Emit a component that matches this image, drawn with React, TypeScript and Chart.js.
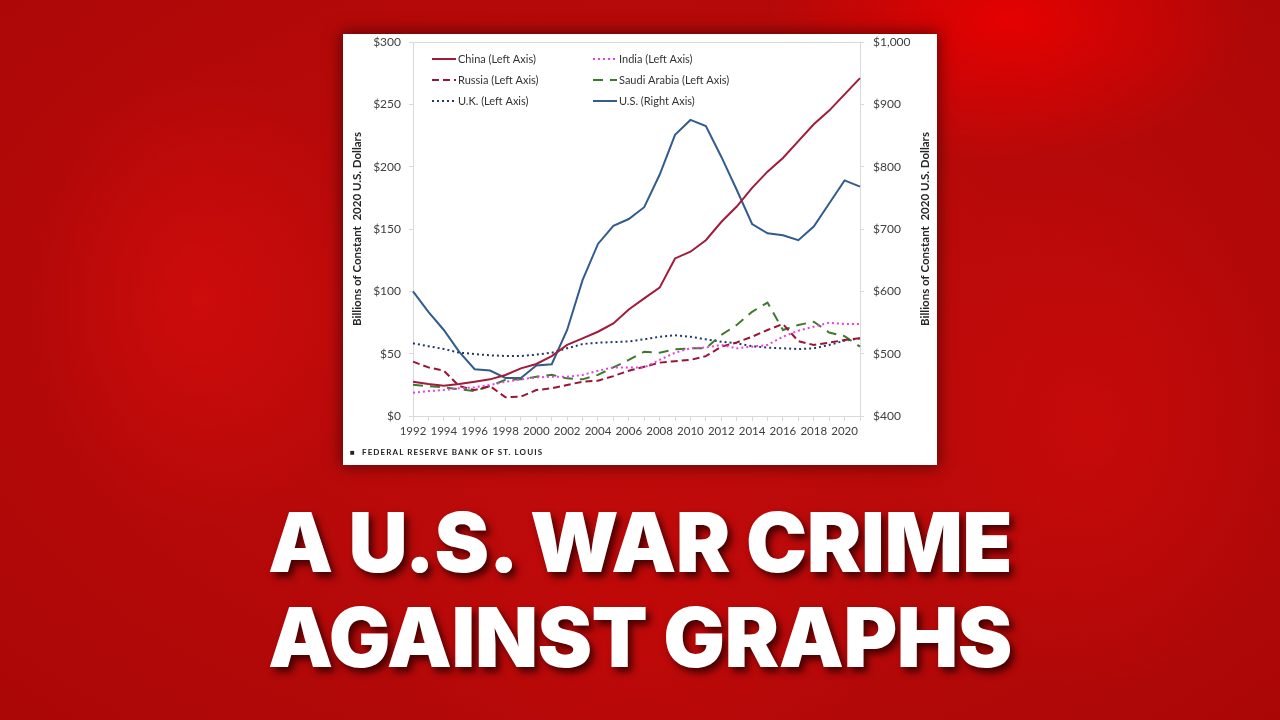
import { useEffect, useRef } from 'react';
import { Chart, registerables } from 'chart.js';

Chart.register(...registerables);

// data (billions of constant 2020 US dollars)
const years = [
  '1992', '1993', '1994', '1995', '1996', '1997', '1998', '1999', '2000', '2001',
  '2002', '2003', '2004', '2005', '2006', '2007', '2008', '2009', '2010', '2011',
  '2012', '2013', '2014', '2015', '2016', '2017', '2018', '2019', '2020', '2021',
];
const china = [27.5, 25.7, 24.3, 25.7, 27.5, 29.4, 32.9, 38.2, 41.7, 48, 57, 62.3, 67.6, 74.3, 85.5, 94.4, 103, 126.4, 131.8, 141, 155.6, 168, 183, 196, 207, 220.5, 234, 245, 258, 271];
const india = [18.7, 20, 20.8, 22.2, 23, 24.9, 27.5, 29.4, 31, 31.5, 31.5, 32.9, 36.3, 39, 39, 39, 45, 50.8, 54.3, 55, 57, 54.3, 55.6, 57, 63.6, 68.4, 71.6, 74.8, 73.8, 73.8];
const russia = [43.6, 39, 36.3, 24, 20.8, 24, 15, 15.5, 20.8, 22.2, 24.9, 27.5, 28.3, 32, 36.3, 39.5, 42.8, 44, 45, 48, 55.6, 59, 63.6, 69, 73.8, 60, 57, 58.8, 61, 62.3];
const saudi = [25, 24, 23, 21.5, 20, 24, 29, 29.4, 31.5, 33, 30.2, 29.4, 33, 39, 45, 51.6, 50.8, 53.5, 54.3, 54.3, 65, 73, 83.6, 91, 69, 73, 75.6, 67, 64, 55.6];
const uk = [58.3, 56, 53.7, 50.8, 49.7, 48.7, 48.1, 48.1, 49.2, 50.8, 54.3, 57.7, 58.8, 59.3, 59.8, 61.5, 63.6, 64.7, 63.6, 61.5, 59.6, 58.3, 56, 54.8, 54.3, 53.7, 54.3, 57, 60.4, 62.3];
const us = [600, 567, 538, 503, 475, 473, 461, 461, 481, 483, 538, 618, 676, 705, 716, 735, 787, 851, 875, 865, 816, 763, 708, 693, 690, 682, 704, 741, 778, 768];

const axisTitle = 'Billions of Constant  2020 U.S. Dollars';
const FONT = 'Lato, "Open Sans", sans-serif';

// draws the in-plot legend, the top border and both axis titles
const extras = {
  id: 'extras',
  afterDraw(chart: any) {
    const { ctx, chartArea: a } = chart;
    ctx.save();
    ctx.strokeStyle = '#d9d9d9';
    ctx.lineWidth = 1;
    ctx.beginPath();
    ctx.moveTo(a.left, a.top + 0.5);
    ctx.lineTo(a.right, a.top + 0.5);
    ctx.stroke();

    ctx.fillStyle = '#262626';
    ctx.font = `bold 11.5px ${FONT}`;
    ctx.textAlign = 'center';
    ctx.textBaseline = 'middle';
    const cy = (a.top + a.bottom) / 2;
    [14, 582].forEach((x) => {
      ctx.save();
      ctx.translate(x, cy);
      ctx.rotate(-Math.PI / 2);
      ctx.fillText(axisTitle, 0, 0);
      ctx.restore();
    });

    // legend: two columns, three rows
    ctx.font = `11px ${FONT}`;
    ctx.textAlign = 'left';
    ctx.fillStyle = '#333';
    chart.data.datasets.forEach((ds: any, i: number) => {
      const col = i % 2;
      const row = Math.floor(i / 2);
      const x = a.left + (col === 0 ? 19 : 180);
      const y = a.top + 17 + row * 21;
      ctx.save();
      ctx.strokeStyle = ds.borderColor;
      ctx.lineWidth = 2;
      ctx.setLineDash(ds.borderDash || []);
      ctx.beginPath();
      ctx.moveTo(x, y);
      ctx.lineTo(x + 24, y);
      ctx.stroke();
      ctx.restore();
      ctx.fillText(ds.label, x + 26, y + 0.5);
    });
    ctx.restore();
  },
};

const FedChart = () => {
  const chartRef = useRef<HTMLCanvasElement>(null);
  const chartInstance = useRef<Chart | null>(null);

  useEffect(() => {
    if (!chartRef.current) return;
    const ctx = chartRef.current.getContext('2d');
    if (!ctx) return;
    if (chartInstance.current) chartInstance.current.destroy();

    const line = (label: string, data: number[], color: string, dash: number[], axis = 'y') => ({
      label,
      data,
      borderColor: color,
      backgroundColor: color,
      borderWidth: 2,
      borderDash: dash,
      pointRadius: 0,
      tension: 0,
      yAxisID: axis,
    });

    // fixed axis sizes so the plot area sits where it does in the original
    const fitY = (w: number) => (s: any) => {
      s.width = w;
      s.paddingTop = 8;
      s.paddingBottom = 8;
    };

    chartInstance.current = new Chart(ctx, {
      type: 'line',
      data: {
        labels: years,
        datasets: [
          line('China (Left Axis)', china, '#a01c3a', []),
          line('India (Left Axis)', india, '#e640e6', [2, 3]),
          line('Russia (Left Axis)', russia, '#9a1535', [7, 4]),
          line('Saudi Arabia (Left Axis)', saudi, '#3f7a2c', [10, 7]),
          line('U.K. (Left Axis)', uk, '#22386a', [2, 3]),
          line('U.S. (Right Axis)', us, '#315c8c', [], 'y1'),
        ],
      },
      options: {
        responsive: true,
        maintainAspectRatio: false,
        animation: false,
        layout: { padding: { top: 0, bottom: 20, left: 0, right: 0 } },
        plugins: { legend: { display: false }, tooltip: { enabled: false } },
        scales: {
          x: {
            offset: false,
            afterFit: (s: any) => { s.height = 29; },
            grid: { drawOnChartArea: false, tickLength: 5, color: '#d9d9d9' },
            border: { color: '#d9d9d9' },
            ticks: {
              autoSkip: false,
              maxRotation: 0,
              minRotation: 0,
              padding: 3,
              color: '#404040',
              font: { family: FONT, size: 11.5 },
              callback: (_v: any, i: number) => (i % 2 === 0 ? years[i] : ''),
            },
          },
          y: {
            position: 'left',
            min: 0,
            max: 300,
            afterFit: fitY(70),
            grid: { drawOnChartArea: false, tickLength: 4, color: '#d9d9d9' },
            border: { color: '#d9d9d9' },
            ticks: {
              stepSize: 50,
              padding: 8,
              color: '#404040',
              font: { family: FONT, size: 12 },
              callback: (v: any) => '$' + v,
            },
          },
          y1: {
            position: 'right',
            min: 400,
            max: 1000,
            afterFit: fitY(77),
            grid: { drawOnChartArea: false, tickLength: 4, color: '#d9d9d9' },
            border: { color: '#d9d9d9' },
            ticks: {
              stepSize: 100,
              padding: 9,
              color: '#404040',
              font: { family: FONT, size: 12 },
              callback: (v: any) => '$' + Number(v).toLocaleString('en-US'),
            },
          },
        },
      },
      plugins: [extras],
    });

    return () => {
      if (chartInstance.current) {
        chartInstance.current.destroy();
        chartInstance.current = null;
      }
    };
  }, []);

  return (
    <div
      style={{
        position: 'absolute',
        left: 343,
        top: 34,
        width: 594,
        height: 431,
        background: '#fff',
        boxShadow: '0 0 14px 2px rgba(40,0,0,0.6)',
      }}
    >
      <canvas ref={chartRef}></canvas>
      <div
        style={{
          position: 'absolute',
          left: 7,
          top: 413,
          fontFamily: FONT,
          fontSize: 8,
          fontWeight: 700,
          letterSpacing: 1.1,
          color: '#222',
          whiteSpace: 'nowrap',
        }}
      >
        ■&nbsp; FEDERAL RESERVE BANK OF ST. LOUIS
      </div>
    </div>
  );
};

export default function App() {
  return (
    <div
      style={{
        position: 'fixed',
        left: 0,
        top: 0,
        width: 1280,
        height: 720,
        overflow: 'hidden',
        background: [
          'radial-gradient(ellipse 240px 140px at 1010px 20px, rgba(235,0,0,0.9), rgba(235,0,0,0))',
          'radial-gradient(ellipse 170px 230px at 200px 300px, rgba(214,12,12,0.7), rgba(214,12,12,0))',
          'radial-gradient(ellipse 200px 260px at 1090px 430px, rgba(206,10,10,0.65), rgba(206,10,10,0))',
          'radial-gradient(ellipse 260px 200px at 640px 620px, rgba(200,8,8,0.5), rgba(200,8,8,0))',
          'radial-gradient(ellipse 1000px 620px at 640px 330px, #c40c0c, #a80606)',
        ].join(','),
        fontFamily: FONT,
      }}
    >
      <FedChart />
      <div
        style={{
          position: 'absolute',
          left: 0,
          top: 495,
          width: 1280,
          textAlign: 'center',
          fontFamily: 'Inter, Roboto, sans-serif',
          fontWeight: 900,
          fontSize: 82,
          lineHeight: '95px',
          letterSpacing: -0.5,
          color: '#fff',
          textShadow: '4px 5px 7px rgba(50,0,0,0.85)',
          whiteSpace: 'nowrap',
        }}
      >
        A U.S. WAR CRIME
        <br />
        AGAINST GRAPHS
      </div>
    </div>
  );
}
